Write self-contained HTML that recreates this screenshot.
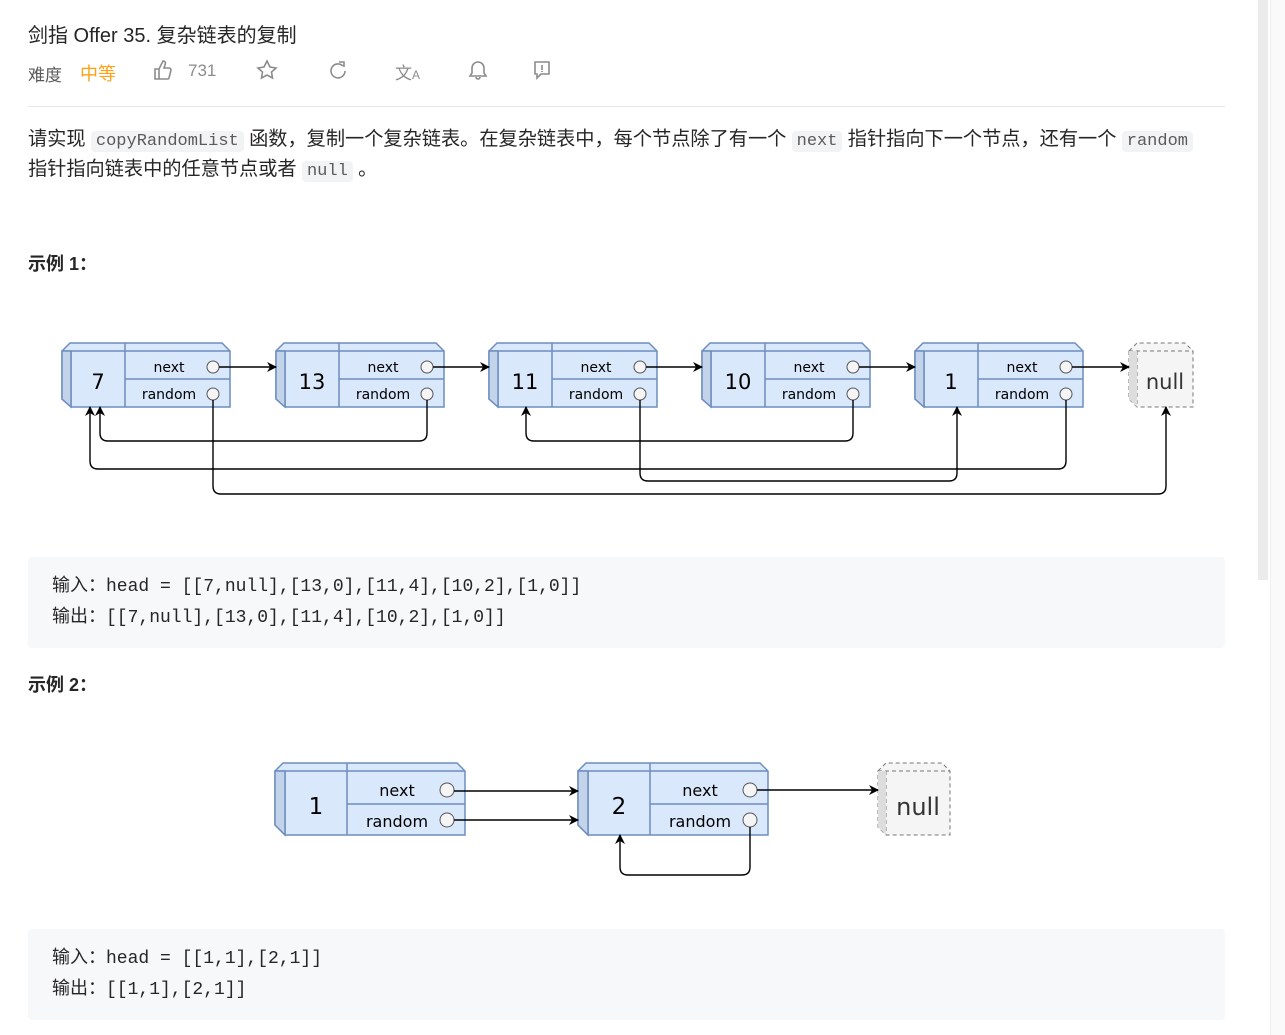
<!DOCTYPE html>
<html><head><meta charset="utf-8"><style>
*{margin:0;padding:0;box-sizing:border-box}
body{width:1285px;height:1035px;position:relative;background:#fff;font-family:"Liberation Sans","Noto Sans CJK SC",sans-serif;color:#262626;overflow:hidden}
.a{position:absolute;white-space:nowrap}
code{font-family:"Liberation Mono","Noto Sans CJK SC",monospace;background:#f2f3f5;color:#5a5a5a;border-radius:4px;padding:1px 5px;font-size:17px}
.code{position:absolute;left:28px;width:1197px;background:#f7f8fa;border-radius:4px;font-family:"Liberation Mono","Noto Sans CJK SC",monospace;font-size:18px;color:#262626;line-height:31px;padding:15px 0 0 24px}
</style></head><body>
<div class="a" style="left:28px;top:19px;font-size:20px;color:#262626">剑指 Offer 35. 复杂链表的复制</div>
<div class="a" style="left:28px;top:61px;font-size:17px;color:#595959">难度</div>
<div class="a" style="left:80px;top:60px;font-size:18px;color:#ffa116">中等</div>
<svg class="a" style="left:150px;top:58px" width="420" height="26" fill="none" stroke="#8c8c8c" stroke-width="1.6">
<path d="M5 11h4v10H5zM9 11l4-8c2 0 3 1 2 4l-1 3h5c1 0 2 1 2 2l-2 8c0 1-1 1-2 1H9"/>
<path d="M117 3l3 6 6 1-4.5 4 1 6-5.5-3-5.5 3 1-6-4.5-4 6-1z"/>
<path d="M193 8a7 7 0 1 0 2 5M189 4h5v5"/>
<path d="M326 19a1 1 0 0 0 4 0M320 18h16l-2-3v-5a6 6 0 0 0-12 0v5z"/>
<path d="M385 4h14v12h-8l-4 4v-4h-2zM392 7v5M392 13v1"/>
</svg>
<div class="a" style="left:188px;top:61px;font-size:17px;color:#8c8c8c">731</div>
<div class="a" style="left:395px;top:59px;font-size:17px;color:#8c8c8c">文<span style="font-size:12px">A</span></div>
<div class="a" style="left:28px;top:106px;width:1197px;height:1px;background:#e8e8e8"></div>
<div class="a" style="left:28px;top:126px;font-size:19.2px;line-height:28px;color:#262626">请实现 <code>copyRandomList</code> 函数，复制一个复杂链表。在复杂链表中，每个节点除了有一个 <code>next</code> 指针指向下一个节点，还有一个 <code>random</code><br>指针指向链表中的任意节点或者 <code>null</code> 。</div>
<div class="a" style="left:28px;top:250px;font-size:18px;font-weight:bold">示例 1：</div>
<div class="a" style="left:28px;top:671px;font-size:18px;font-weight:bold">示例 2：</div>
<div class="code" style="top:557px;height:91px">输入：head = [[7,null],[13,0],[11,4],[10,2],[1,0]]<br>输出：[[7,null],[13,0],[11,4],[10,2],[1,0]]</div>
<div class="code" style="top:929px;height:91px">输入：head = [[1,1],[2,1]]<br>输出：[[1,1],[2,1]]</div>
<div class="a" style="left:1258px;top:0;width:10px;height:580px;background:#ebebeb"></div>
<div class="a" style="left:1270px;top:0;width:15px;height:1035px;background:#fafafa;border-left:1px solid #eee"></div>
<svg class="a" style="left:0;top:0" width="1250" height="1035">
<defs><marker id="ar" markerWidth="10" markerHeight="10" refX="9" refY="5" orient="auto" markerUnits="userSpaceOnUse"><path d="M0 0L10 5L0 10L3 5z" fill="#000"/></marker>
<g id="n1" stroke="#6c8ebf" stroke-width="1.5" fill="#dae8fc">
<path d="M0 8L8 0H160L168 8V64H9L0 56Z"/><path d="M0 8H168M9 8V64M63 8V64" fill="none"/>
<path d="M0 8L9 8 9 64 0 56Z" fill="#c3d3ea"/><path d="M63 0V8" fill="none"/>
<path d="M63 36H168" fill="none"/>
<circle cx="151" cy="24" r="6" fill="#f5f5f5" stroke="#555" stroke-width="1"/>
<circle cx="151" cy="51" r="6" fill="#f5f5f5" stroke="#555" stroke-width="1"/>
</g>
<g id="n2" stroke="#6c8ebf" stroke-width="1.5" fill="#dae8fc">
<path d="M0 8L8 0H182L190 8V72H10L0 62Z"/><path d="M0 8H190M10 8V72M72 8V72" fill="none"/>
<path d="M0 8L10 8 10 72 0 62Z" fill="#c3d3ea"/><path d="M72 0V8" fill="none"/>
<path d="M72 41H190" fill="none"/>
<circle cx="172" cy="27" r="7" fill="#f5f5f5" stroke="#555" stroke-width="1"/>
<circle cx="172" cy="57" r="7" fill="#f5f5f5" stroke="#555" stroke-width="1"/>
</g></defs>
<g font-family="'Comic Sans MS','DejaVu Sans',sans-serif" fill="#000" text-anchor="middle">
<use href="#n1" x="62" y="343"/><use href="#n1" x="276" y="343"/><use href="#n1" x="489" y="343"/><use href="#n1" x="702" y="343"/><use href="#n1" x="915" y="343"/>
<g font-size="21"><text x="98" y="389">7</text><text x="312" y="389">13</text><text x="525" y="389">11</text><text x="738" y="389">10</text><text x="951" y="389">1</text></g>
<g font-size="14"><text x="169" y="372">next</text><text x="169" y="399">random</text>
<text x="383" y="372">next</text><text x="383" y="399">random</text>
<text x="596" y="372">next</text><text x="596" y="399">random</text>
<text x="809" y="372">next</text><text x="809" y="399">random</text>
<text x="1022" y="372">next</text><text x="1022" y="399">random</text></g>
<path d="M1129 351L1137 343H1185L1193 351V407H1137L1129 399Z" fill="#f5f5f5" stroke="#777" stroke-dasharray="4 3"/>
<path d="M1129 351H1193M1137 351V407" fill="none" stroke="#777" stroke-dasharray="4 3"/>
<path d="M1129 351H1137V407L1129 399Z" fill="#ddd" stroke="none"/>
<text x="1165" y="389" font-size="21" fill="#333">null</text>
<use href="#n2" x="275" y="763"/><use href="#n2" x="578" y="763"/>
<text x="316" y="814" font-size="23">1</text><text x="619" y="814" font-size="23">2</text>
<g font-size="16"><text x="397" y="796">next</text><text x="397" y="827">random</text><text x="700" y="796">next</text><text x="700" y="827">random</text></g>
<path d="M878 771L886 763H942L950 771V835H886L878 827Z" fill="#f5f5f5" stroke="#777" stroke-dasharray="4 3"/>
<path d="M878 771H950M886 771V835" fill="none" stroke="#777" stroke-dasharray="4 3"/>
<path d="M878 771H886V835L878 827Z" fill="#ddd" stroke="none"/>
<text x="918" y="815" font-size="24" fill="#333">null</text>
</g>
<g fill="none" stroke="#000" stroke-width="1.4" marker-end="url(#ar)">
<path d="M219 367H276"/><path d="M433 367H489"/><path d="M646 367H702"/><path d="M859 367H915"/><path d="M1072 367H1129"/>
<path d="M213 400V486Q213 494 221 494H1158Q1166 494 1166 486V407"/>
<path d="M427 400V433Q427 441 419 441H108Q100 441 100 433V407"/>
<path d="M640 400V473Q640 481 648 481H949Q957 481 957 473V407"/>
<path d="M853 400V433Q853 441 845 441H534Q526 441 526 433V407"/>
<path d="M1066 400V461Q1066 469 1058 469H98Q90 469 90 461V407"/>
<path d="M454 791H578"/><path d="M454 820H578"/><path d="M757 790H878"/>
<path d="M750 827V867Q750 875 742 875H628Q620 875 620 867V835"/>
</g>
</svg>
</body></html>
